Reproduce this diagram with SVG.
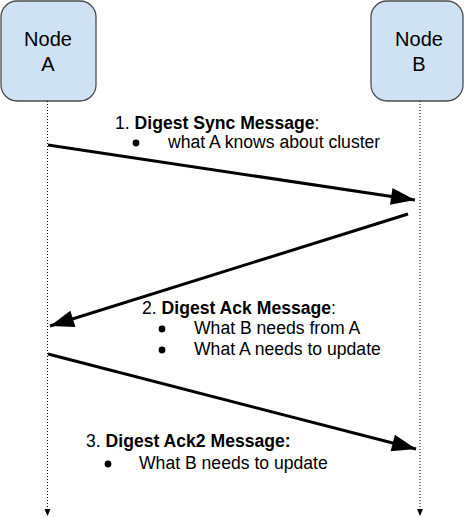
<svg xmlns="http://www.w3.org/2000/svg" width="467" height="517" viewBox="0 0 467 517">
<style>
.box{fill:#cfe2f3;stroke:#4d4d4d;stroke-width:1.3}
.nt{font-family:"Liberation Sans",Arial,sans-serif;font-size:20px;fill:#000;text-anchor:middle}
.mt{font-family:"Liberation Sans",Arial,sans-serif;font-size:17.6px;fill:#000}
.b{font-weight:bold}
.life{stroke:#000;stroke-width:1;stroke-dasharray:1,2;fill:none}
.msg{stroke:#000;stroke-width:3;fill:none}
</style>
<defs>
<marker id="ah" markerUnits="userSpaceOnUse" markerWidth="26" markerHeight="20" viewBox="0 0 26 20" refX="25" refY="10" orient="auto">
<path d="M1,1.5 L25,10 L1,18.5 Z" fill="#000"/>
</marker>
</defs>
<g id="nodeA">
<rect class="box" x="1" y="1" width="95" height="100" rx="16"/>
<text class="nt" x="48" y="46">Node</text>
<text class="nt" x="48" y="71">A</text>
</g>
<g id="nodeB">
<rect class="box" x="371" y="1" width="92" height="100" rx="16"/>
<text class="nt" x="419" y="46">Node</text>
<text class="nt" x="419" y="71">B</text>
</g>
<g id="connectors">
<path class="life" d="M47.5,101 V508"/>
<path class="life" d="M420,101 V508"/>
<path d="M44.5,509 H50.5 L47.5,516 Z" fill="#000"/>
<path d="M417,509 H423 L420,516 Z" fill="#000"/>
<line class="msg" x1="48" y1="145" x2="415" y2="200" marker-end="url(#ah)"/>
<line class="msg" x1="408" y1="214" x2="50" y2="326" marker-end="url(#ah)"/>
<line class="msg" x1="48" y1="354" x2="416" y2="449" marker-end="url(#ah)"/>
</g>
<g id="msg1">
<text class="mt" x="115" y="129">1. <tspan class="b">Digest Sync Message</tspan>:</text>
<circle cx="136" cy="143" r="3.4"/>
<text class="mt" x="168" y="148">what A knows about cluster</text>
</g>
<g id="msg2">
<text class="mt" x="142" y="314">2. <tspan class="b">Digest Ack Message</tspan>:</text>
<circle cx="162" cy="329" r="3.4"/>
<text class="mt" x="194" y="334">What B needs from A</text>
<circle cx="162" cy="350" r="3.4"/>
<text class="mt" x="194" y="355">What A needs to update</text>
</g>
<g id="msg3">
<text class="mt" x="86" y="447">3. <tspan class="b">Digest Ack2 Message:</tspan></text>
<circle cx="108" cy="464" r="3.4"/>
<text class="mt" x="139" y="469">What B needs to update</text>
</g>
</svg>
